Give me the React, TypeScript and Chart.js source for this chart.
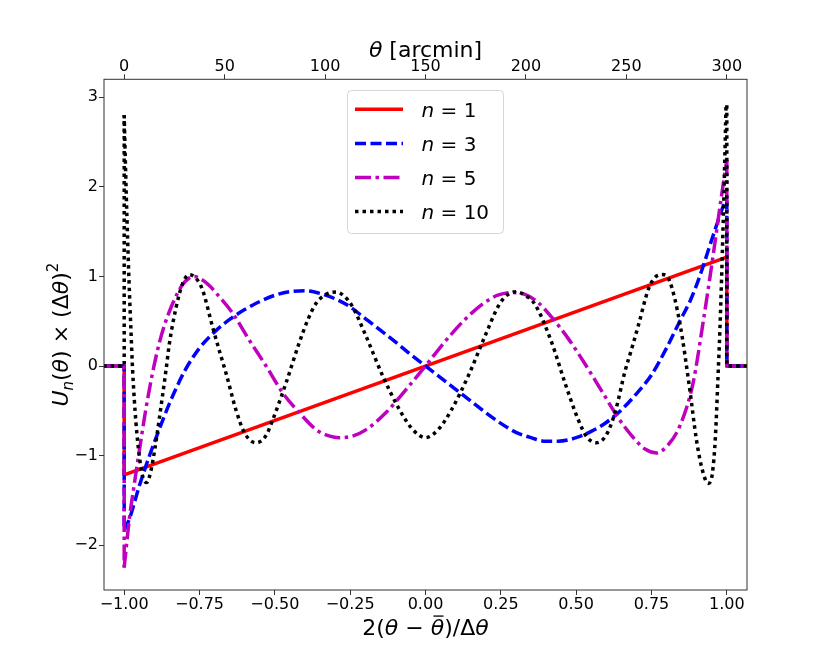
import { useEffect, useRef } from "react"
import { Chart, registerables } from "chart.js"

Chart.register(...registerables)

// Axis ticks
const xTicks = [-1, -0.75, -0.5, -0.25, 0, 0.25, 0.5, 0.75, 1]
const yTicks = [-2, -1, 0, 1, 2, 3]
const thetaTicks = [0, 50, 100, 150, 200, 250, 300]

// Legend labels (n values)
const nLabels = ["1", "3", "5", "10"]

// Outer x positions where every curve sits at zero
const edgeX = [-1.07, -1, 1, 1.07]

// n = 1 (inside the window)
const n1X = [-1, 1]
const n1Y = [-1.215, 1.215]

// n = 3
const n3X = [
  -1, -0.983, -0.95, -0.917, -0.884, -0.85, -0.8, -0.75, -0.7, -0.65, -0.6, -0.55, -0.5, -0.45, -0.4, -0.35,
  -0.3, -0.25, -0.2, -0.15, -0.1, -0.05, 0, 0.05, 0.1, 0.15, 0.2, 0.25, 0.3, 0.35, 0.4, 0.44, 0.5, 0.55, 0.6,
  0.65, 0.7, 0.75, 0.8, 0.844, 0.88, 0.91, 0.954, 0.993, 1,
]
const n3Y = [
  -1.83, -1.71, -1.34, -1.01, -0.71, -0.42, -0.06, 0.2, 0.38, 0.52, 0.63, 0.72, 0.79, 0.83, 0.84, 0.81,
  0.75, 0.66, 0.53, 0.4, 0.27, 0.13, 0, -0.13, -0.26, -0.39, -0.52, -0.64, -0.74, -0.8, -0.84, -0.84, -0.8,
  -0.73, -0.63, -0.49, -0.31, -0.1, 0.2, 0.5, 0.74, 1.0, 1.45, 1.82, 1.85,
]

// n = 5
const n5X = [
  -1, -0.983, -0.967, -0.95, -0.928, -0.906, -0.884, -0.865, -0.845, -0.825, -0.806, -0.785, -0.767, -0.74,
  -0.715, -0.695, -0.64, -0.585, -0.529, -0.474, -0.419, -0.363, -0.32, -0.286, -0.24, -0.197, -0.131, -0.064,
  0, 0.064, 0.131, 0.197, 0.24, 0.29, 0.33, 0.37, 0.42, 0.475, 0.53, 0.585, 0.64, 0.695, 0.73, 0.766, 0.8,
  0.844, 0.888, 0.921, 0.954, 0.982, 1,
]
const n5Y = [
  -2.25, -1.71, -1.33, -0.95, -0.48, -0.08, 0.25, 0.47, 0.65, 0.8, 0.91, 0.98, 1.0, 0.96,
  0.89, 0.815, 0.59, 0.29, 0, -0.3, -0.52, -0.71, -0.78, -0.8, -0.78, -0.71, -0.52, -0.26,
  0, 0.27, 0.52, 0.71, 0.79, 0.82, 0.8, 0.72, 0.54, 0.3, 0.02, -0.28, -0.58, -0.82, -0.93, -0.97, -0.9,
  -0.67, -0.19, 0.48, 1.22, 1.89, 2.3,
]

// n = 10
const n10X = [
  -1, -0.993, -0.984, -0.977, -0.972, -0.961, -0.95, -0.938, -0.925, -0.912, -0.898, -0.884, -0.861, -0.85,
  -0.828, -0.806, -0.784, -0.762, -0.74, -0.707, -0.685, -0.662, -0.629, -0.6, -0.5625, -0.53, -0.507, -0.463,
  -0.419, -0.39, -0.363, -0.33, -0.297, -0.27, -0.242, -0.197, -0.142, -0.086, -0.042, 0, 0.042, 0.086, 0.142,
  0.197, 0.242, 0.27, 0.3, 0.33, 0.363, 0.419, 0.463, 0.507, 0.535, 0.567, 0.6, 0.629, 0.662, 0.685, 0.707,
  0.74, 0.765, 0.788, 0.81, 0.844, 0.877, 0.899, 0.918, 0.938, 0.952, 0.962, 0.971, 0.977, 0.988, 0.994, 0.998,
  1,
]
const n10Y = [
  2.8, 1.9, 0.95, 0.35, -0.05, -0.63, -1.0, -1.24, -1.3, -1.18, -0.92, -0.6, -0.04, 0.25,
  0.65, 0.92, 1.02, 0.98, 0.85, 0.44, 0.18, -0.08, -0.49, -0.75, -0.857, -0.78, -0.6, -0.19,
  0.26, 0.52, 0.7, 0.8, 0.826, 0.78, 0.66, 0.33, -0.11, -0.49, -0.71, -0.8, -0.71, -0.49, -0.11,
  0.33, 0.67, 0.79, 0.83, 0.79, 0.69, 0.26, -0.19, -0.6, -0.79, -0.857, -0.77, -0.52, -0.06, 0.2, 0.46,
  0.86, 1.0, 1.02, 0.95, 0.48, -0.26, -0.82, -1.15, -1.31, -1.2, -0.8, -0.1, 0.4, 1.6, 2.4, 2.91,
  2.91,
]

const FONT = '"DejaVu Sans", sans-serif'
const LW = 3.5

const toPoints = (xs: number[], ys: number[]) => xs.map((x, i) => ({ x, y: ys[i] }))
const minus = (s: string) => s.replace("-", "\u2212")

const series = [
  { label: nLabels[0], xs: n1X, ys: n1Y, color: "#ff0000", dash: [] as number[], order: 3 },
  { label: nLabels[1], xs: n3X, ys: n3Y, color: "#0000ff", dash: [11, 4.5], order: 2 },
  { label: nLabels[2], xs: n5X, ys: n5Y, color: "#bf00bf", dash: [16, 4.5, 3.5, 4.5], order: 1 },
  { label: nLabels[3], xs: n10X, ys: n10Y, color: "#000000", dash: [3.5, 4], order: 0 },
]

type Part = { t: string; it?: boolean; size?: number; dy?: number; bar?: boolean }

function drawParts(ctx: CanvasRenderingContext2D, parts: Part[], x: number, y: number, base: number, align: "center" | "left") {
  const fontOf = (p: Part) => `${p.it ? "italic " : ""}${p.size ?? base}px ${FONT}`
  let total = 0
  const widths = parts.map((p) => {
    ctx.font = fontOf(p)
    const w = ctx.measureText(p.t).width
    total += w
    return w
  })
  let cx = align === "center" ? x - total / 2 : x
  ctx.textAlign = "left"
  ctx.textBaseline = "alphabetic"
  parts.forEach((p, i) => {
    ctx.font = fontOf(p)
    ctx.fillText(p.t, cx, y + (p.dy ?? 0))
    if (p.bar) {
      ctx.save()
      ctx.lineWidth = 1.3
      ctx.strokeStyle = ctx.fillStyle as string
      ctx.beginPath()
      const by = y - base * 0.86
      ctx.moveTo(cx + widths[i] * 0.2, by)
      ctx.lineTo(cx + widths[i] * 0.95, by)
      ctx.stroke()
      ctx.restore()
    }
    cx += widths[i]
  })
}

const decorPlugin = {
  id: "decor",
  beforeDraw(chart: Chart) {
    const ctx = chart.ctx
    ctx.save()
    ctx.fillStyle = "#ffffff"
    ctx.fillRect(0, 0, chart.width, chart.height)
    ctx.restore()
  },
  afterDraw(chart: Chart) {
    const ctx = chart.ctx
    const a = chart.chartArea
    ctx.save()
    // frame
    ctx.strokeStyle = "#333333"
    ctx.lineWidth = 1
    ctx.strokeRect(a.left, a.top, a.right - a.left, a.bottom - a.top)

    ctx.fillStyle = "#000000"
    const cx = (a.left + a.right) / 2
    // bottom label
    drawParts(
      ctx,
      [{ t: "2(" }, { t: "θ", it: true }, { t: " − " }, { t: "θ", it: true, bar: true }, { t: ")/Δ" }, { t: "θ", it: true }],
      cx,
      635,
      22,
      "center"
    )
    // top label
    drawParts(ctx, [{ t: "θ", it: true }, { t: " [arcmin]" }], cx, 57, 22, "center")
    // y label
    ctx.save()
    ctx.translate(68, (a.top + a.bottom) / 2)
    ctx.rotate(-Math.PI / 2)
    drawParts(
      ctx,
      [
        { t: "U", it: true },
        { t: "n", it: true, size: 15, dy: 5 },
        { t: "(" },
        { t: "θ", it: true },
        { t: ") × (Δ" },
        { t: "θ", it: true },
        { t: ")" },
        { t: "2", size: 15, dy: -10 },
      ],
      0,
      0,
      22,
      "center"
    )
    ctx.restore()

    // legend
    const bx = 347.5
    const by = 90.5
    const bw = 156
    const bh = 143
    ctx.beginPath()
    ctx.roundRect(bx, by, bw, bh, 4)
    ctx.fillStyle = "rgba(255,255,255,0.8)"
    ctx.fill()
    ctx.strokeStyle = "#d6d6d6"
    ctx.lineWidth = 1
    ctx.stroke()
    series.forEach((s, i) => {
      const ry = 109.3 + i * 34.1
      ctx.save()
      ctx.strokeStyle = s.color
      ctx.lineWidth = LW
      ctx.setLineDash(s.dash)
      ctx.beginPath()
      ctx.moveTo(355, ry)
      ctx.lineTo(403, ry)
      ctx.stroke()
      ctx.restore()
      ctx.fillStyle = "#000000"
      drawParts(ctx, [{ t: "n", it: true }, { t: " = " + s.label }], 421.5, ry + 7.3, 20, "left")
    })
    ctx.restore()
  },
}

export default function App() {
  const canvasRef = useRef<HTMLCanvasElement>(null)
  const chartRef = useRef<Chart | null>(null)

  useEffect(() => {
    if (!canvasRef.current) return
    if (chartRef.current) chartRef.current.destroy()

    const tickFont = { family: FONT, size: 16 }
    const gridCfg = { drawOnChartArea: false, drawTicks: true, tickLength: 5, color: "#333333", lineWidth: 1 }

    const style = (s: (typeof series)[number]) => ({
      borderColor: s.color,
      backgroundColor: s.color,
      borderWidth: LW,
      borderDash: s.dash,
      borderCapStyle: "butt" as const,
      borderJoinStyle: "round" as const,
      pointRadius: 0,
      fill: false,
      order: s.order,
    })

    const datasets: any[] = []
    series.forEach((s) => {
      const last = s.xs.length - 1
      // smooth part inside the window
      datasets.push({
        ...style(s),
        label: "n = " + s.label,
        data: toPoints(s.xs, s.ys),
        cubicInterpolationMode: "monotone",
      })
      // zero stubs and the jumps at the window edges
      datasets.push({
        ...style(s),
        label: "",
        data: [
          { x: edgeX[0], y: 0 },
          { x: edgeX[1], y: 0 },
          { x: s.xs[0], y: s.ys[0] },
        ],
        tension: 0,
      })
      datasets.push({
        ...style(s),
        label: "",
        data: [
          { x: s.xs[last], y: s.ys[last] },
          { x: edgeX[2], y: 0 },
          { x: edgeX[3], y: 0 },
        ],
        tension: 0,
      })
    })

    chartRef.current = new Chart(canvasRef.current, {
      type: "line",
      data: { datasets },
      options: {
        responsive: false,
        animation: false,
        parsing: false,
        layout: { padding: { left: 0, right: 83, top: 0, bottom: 0 } },
        plugins: { legend: { display: false }, tooltip: { enabled: false }, title: { display: false } },
        scales: {
          x: {
            type: "linear",
            position: "bottom",
            min: -1.067,
            max: 1.067,
            afterBuildTicks: (s: any) => {
              s.ticks = xTicks.map((v) => ({ value: v }))
            },
            afterFit: (s: any) => {
              s.height = 74
            },
            grid: gridCfg,
            border: { display: false },
            ticks: {
              font: tickFont,
              color: "#000",
              padding: 0,
              maxRotation: 0,
              autoSkip: false,
              callback: (v: any) => minus(Number(v).toFixed(2)),
            },
          },
          x2: {
            type: "linear",
            position: "top",
            min: -10.05,
            max: 310.05,
            afterBuildTicks: (s: any) => {
              s.ticks = thetaTicks.map((v) => ({ value: v }))
            },
            afterFit: (s: any) => {
              s.height = 79.3
            },
            grid: gridCfg,
            border: { display: false },
            ticks: {
              font: tickFont,
              color: "#000",
              padding: -2,
              maxRotation: 0,
              autoSkip: false,
              callback: (v: any) => String(v),
            },
          },
          y: {
            type: "linear",
            min: -2.5,
            max: 3.2,
            afterBuildTicks: (s: any) => {
              s.ticks = yTicks.map((v) => ({ value: v }))
            },
            afterFit: (s: any) => {
              s.width = 104
            },
            grid: gridCfg,
            border: { display: false },
            ticks: {
              font: tickFont,
              color: "#000",
              padding: 1,
              autoSkip: false,
              callback: (v: any) => minus(String(v)),
            },
          },
        },
      },
      plugins: [decorPlugin],
    })

    return () => {
      if (chartRef.current) {
        chartRef.current.destroy()
        chartRef.current = null
      }
    }
  }, [])

  return (
    <div style={{ position: "absolute", left: 0, top: 0, width: 830, height: 664, background: "#fff" }}>
      <canvas ref={canvasRef} width={830} height={664} style={{ display: "block" }}></canvas>
    </div>
  )
}
